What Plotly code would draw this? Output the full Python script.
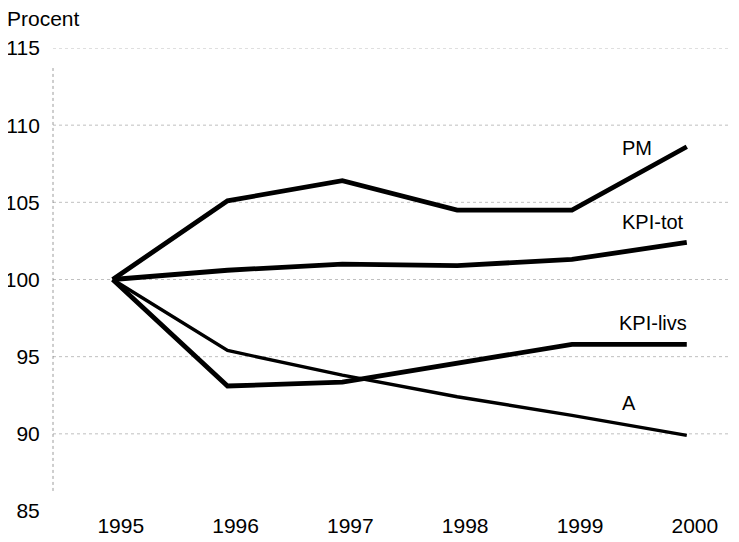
import plotly.graph_objects as go

years = [1995, 1996, 1997, 1998, 1999, 2000]
pm = [100, 105.1, 106.4, 104.5, 104.5, 108.6]
kpi_tot = [100, 100.6, 101.0, 100.9, 101.3, 102.4]
kpi_livs = [100, 93.1, 93.35, 94.6, 95.8, 95.8]
a_serie = [100, 95.4, 93.8, 92.4, 91.2, 89.9]

y_ticks = [85, 90, 95, 100, 105, 110, 115]
font = "Liberation Sans, Arial, sans-serif"

series = [
    ("PM", pm, 4.8),
    ("KPI-tot", kpi_tot, 4.8),
    ("KPI-livs", kpi_livs, 4.8),
    ("A", a_serie, 3.4),
]

fig = go.Figure()
for name, vals, w in series:
    fig.add_trace(go.Scatter(x=years, y=vals, mode="lines", name=name,
                             line=dict(color="black", width=w),
                             hoverinfo="x+y+name"))

# labels next to the line ends
labels = [("PM", 1999.57, 108.5), ("KPI-tot", 1999.71, 103.7),
          ("KPI-livs", 1999.71, 97.2), ("A", 1999.50, 92.0)]
for txt, lx, ly in labels:
    fig.add_annotation(x=lx, y=ly, text=txt, showarrow=False,
                       font=dict(family=font, size=20, color="black"))

# faint dashed grid, no line at the bottom
for v in y_ticks[1:]:
    fig.add_shape(type="line", xref="paper", x0=0, x1=1, y0=v, y1=v,
                  line=dict(color="rgba(130,130,130,0.5)", width=1, dash="dot"),
                  layer="below")
fig.add_shape(type="line", xref="paper", x0=0, x1=0, y0=86.3, y1=113.7,
              line=dict(color="rgba(90,90,90,0.6)", width=1, dash="dot"),
              layer="below")

fig.add_annotation(text="Procent", xref="paper", yref="paper", x=-0.07, y=1.063,
                   xanchor="left", yanchor="middle", showarrow=False,
                   font=dict(family=font, size=21, color="black"))

tick_font = dict(family=font, size=21, color="black")
# page body has an 8px margin, so the figure is 8px smaller each way
fig.update_layout(
    width=731, height=534,
    margin=dict(l=45, r=4, t=40, b=31),
    paper_bgcolor="white", plot_bgcolor="white",
    showlegend=False,
    xaxis=dict(range=[1994.48, 2000.42],
               tickvals=[y + 0.07 for y in years], ticktext=[str(y) for y in years],
               showgrid=False, zeroline=False, showline=False, ticks="",
               tickfont=tick_font, anchor="free", position=0,
               automargin=False),
    yaxis=dict(range=[85, 115], tickvals=y_ticks, showgrid=False,
               zeroline=False, showline=False, ticks="outside", ticklen=8,
               tickcolor="rgba(0,0,0,0)", tickfont=tick_font,
               automargin=False),
)

fig.write_html("out.html")
